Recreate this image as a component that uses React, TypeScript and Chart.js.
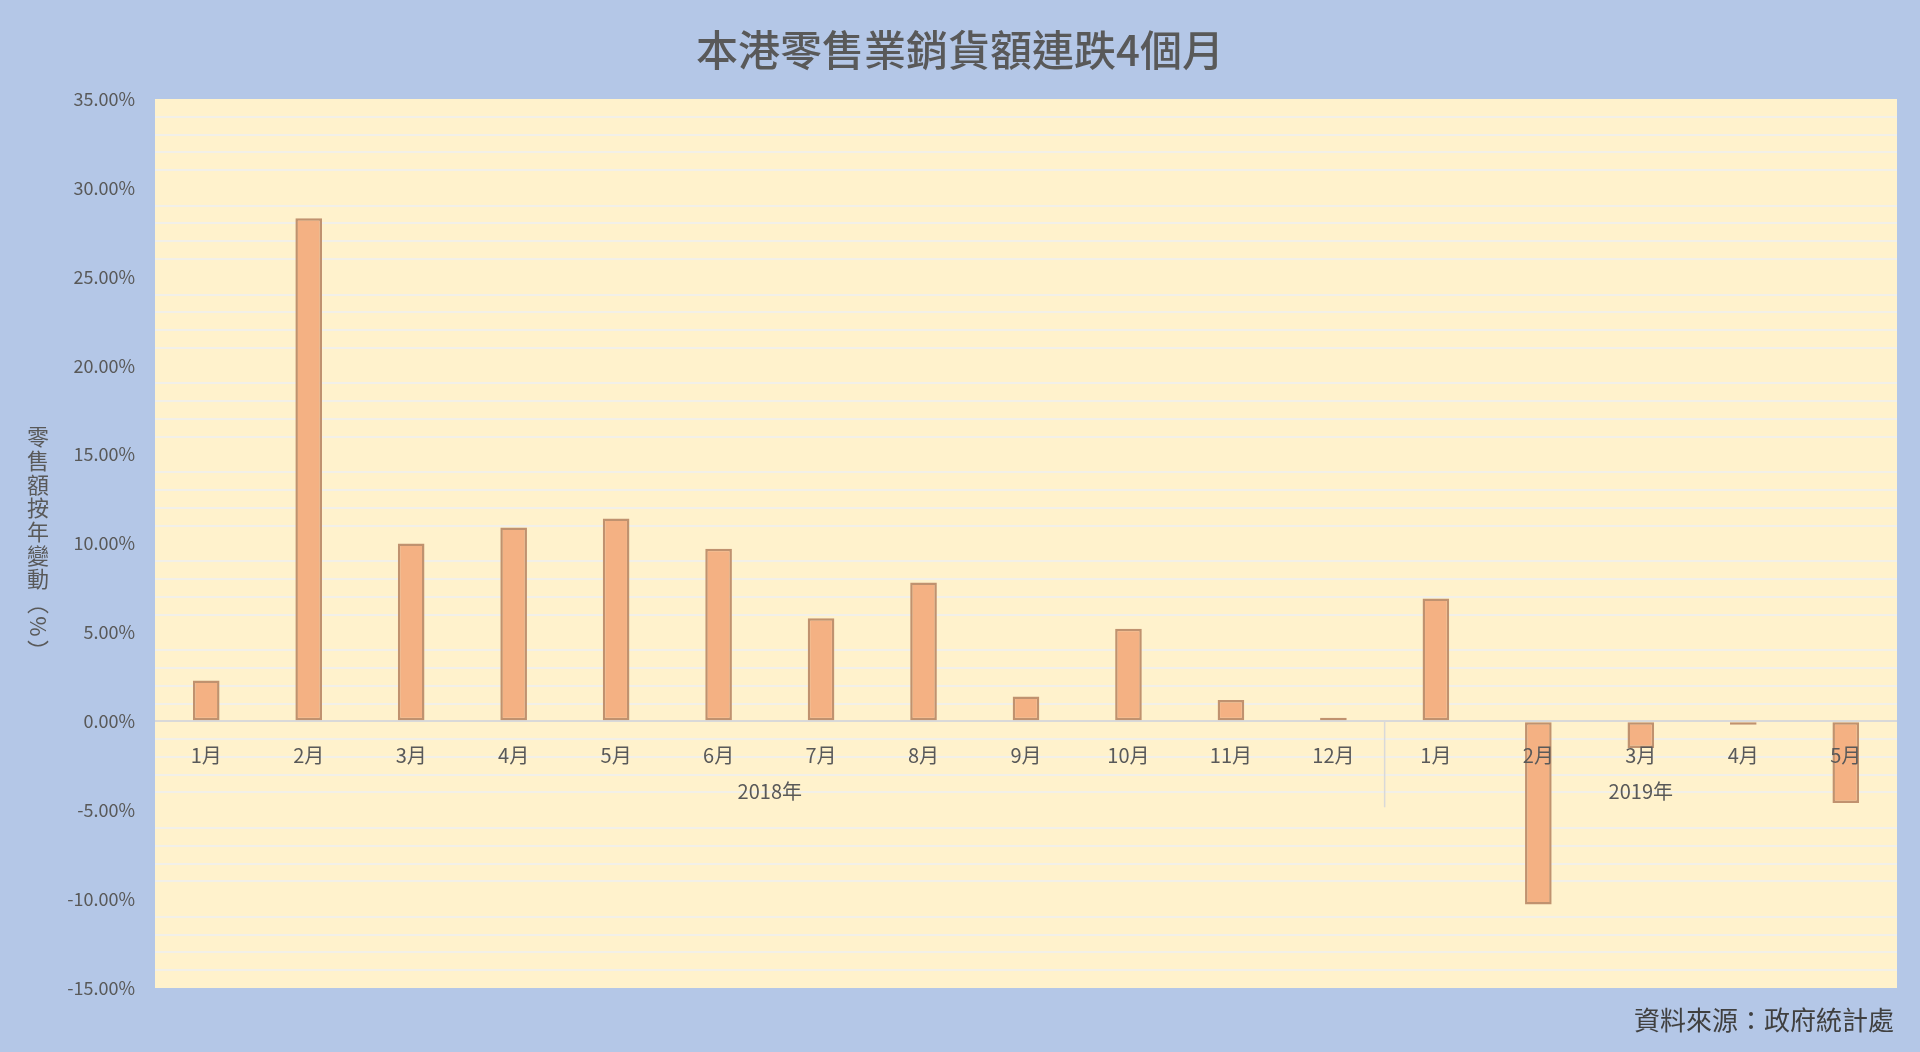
import { useEffect, useRef } from "react";
import { Chart, registerables, type ChartConfiguration, type Plugin } from "chart.js";

Chart.register(...registerables);

const TITLE = "本港零售業銷貨額連跌4個月";
const Y_TITLE = "零售額按年變動（%）";
const SOURCE = "資料來源：政府統計處";

const YEARS = ["2018年", "2019年"];
const MONTHS_2018 = ["1月", "2月", "3月", "4月", "5月", "6月", "7月", "8月", "9月", "10月", "11月", "12月"];
const MONTHS_2019 = ["1月", "2月", "3月", "4月", "5月"];
// 按年變動 (%)
const VALUES_2018 = [2.3, 28.3, 10.0, 10.9, 11.4, 9.7, 5.8, 7.8, 1.4, 5.2, 1.2, 0.2];
const VALUES_2019 = [6.9, -10.3, -1.5, -0.2, -4.6];

const Y_MIN = -15;
const Y_MAX = 35;
const Y_LABEL_EVERY = 5;

const FONT = '"Noto Sans CJK TC", "Noto Sans", sans-serif';
const TEXT = "#595959";

const groups = [MONTHS_2018.length, MONTHS_2019.length];

// 背景、標題、年份分組、縱軸標題、資料來源
const decor: Plugin<"bar"> = {
  id: "decor",
  beforeDraw(chart) {
    const { ctx, chartArea: a, width, height } = chart;
    ctx.save();
    ctx.fillStyle = "#b4c7e7";
    ctx.fillRect(0, 0, width, height);
    ctx.fillStyle = "#fff2cc";
    ctx.fillRect(a.left, a.top, a.right - a.left, a.bottom - a.top);
    ctx.restore();
  },
  afterDraw(chart) {
    const { ctx, chartArea: a, width } = chart;
    const xs = chart.scales.x;
    const ys = chart.scales.y;
    const zero = ys.getPixelForValue(0);
    const total = groups.reduce((s, n) => s + n, 0);

    ctx.save();
    ctx.textAlign = "center";
    ctx.textBaseline = "middle";

    ctx.fillStyle = TEXT;
    ctx.font = `500 42px ${FONT}`;
    ctx.fillText(TITLE, width / 2, 50);

    // year labels + separators
    ctx.font = `20px ${FONT}`;
    let start = 0;
    groups.forEach((n, i) => {
      const x0 = xs.getPixelForValue(start);
      const x1 = xs.getPixelForValue(start + n - 1);
      ctx.fillStyle = TEXT;
      ctx.fillText(YEARS[i], (x0 + x1) / 2, zero + 70);
      if (start + n < total) {
        const sx = (x1 + xs.getPixelForValue(start + n)) / 2;
        ctx.strokeStyle = "#d9d9d9";
        ctx.lineWidth = 1.5;
        ctx.beginPath();
        ctx.moveTo(sx, zero);
        ctx.lineTo(sx, zero + 86);
        ctx.stroke();
      }
      start += n;
    });

    // vertical axis title, stacked characters
    const chars = Array.from(Y_TITLE);
    const pitch = 23.7;
    const cx = 38;
    const cy0 = (a.top + a.bottom) / 2 - ((chars.length - 1) / 2) * pitch;
    ctx.font = `22px ${FONT}`;
    ctx.fillStyle = TEXT;
    chars.forEach((ch, i) => {
      const cy = cy0 + i * pitch;
      if (ch === "%") {
        ctx.save();
        ctx.translate(cx, cy);
        ctx.rotate(Math.PI / 2);
        ctx.fillText(ch, 0, 0);
        ctx.restore();
      } else {
        const c = ch === "（" ? "︵" : ch === "）" ? "︶" : ch;
        ctx.fillText(c, cx, cy);
      }
    });

    ctx.fillStyle = "#404040";
    ctx.font = `26px ${FONT}`;
    ctx.textAlign = "right";
    ctx.fillText(SOURCE, 1894, 1020);
    ctx.restore();
  },
};

export default function App() {
  const canvasRef = useRef<HTMLCanvasElement>(null);

  useEffect(() => {
    if (!canvasRef.current) return;
    const config: ChartConfiguration<"bar"> = {
      type: "bar",
      data: {
        labels: [...MONTHS_2018, ...MONTHS_2019],
        datasets: [
          {
            label: "零售額按年變動",
            data: [...VALUES_2018, ...VALUES_2019],
            backgroundColor: "#f4b183",
            borderColor: "#c0926f",
            borderWidth: 2.5,
            borderSkipped: false,
            categoryPercentage: 1,
            barPercentage: 0.26,
          },
        ],
      },
      options: {
        responsive: true,
        maintainAspectRatio: false,
        animation: false,
        layout: { padding: { top: 99, right: 23, bottom: 64, left: 0 } },
        scales: {
          x: {
            position: { y: 0 },
            grid: { display: false },
            border: { display: false },
            ticks: {
              color: TEXT,
              font: { family: FONT, size: 20 },
              padding: 14,
              autoSkip: false,
              maxRotation: 0,
              z: 1,
            },
            afterFit: (s) => {
              s.height = 0;
            },
          },
          y: {
            min: Y_MIN,
            max: Y_MAX,
            afterFit: (s) => {
              s.width = 155;
            },
            border: { display: false },
            grid: {
              drawTicks: false,
              lineWidth: 2,
              color: (c) => {
                const v = Math.round(c.tick.value);
                if (v === 0) return "#d9d9d9";
                if (v % Y_LABEL_EVERY === 0) return "rgba(0,0,0,0)";
                return "#f2f0e8";
              },
            },
            ticks: {
              stepSize: 1,
              autoSkip: false,
              padding: 20,
              color: TEXT,
              font: { family: FONT, size: 18 },
              callback: (v) => {
                const n = Math.round(Number(v));
                return n % Y_LABEL_EVERY === 0 ? n.toFixed(2) + "%" : "";
              },
            },
          },
        },
        plugins: {
          legend: { display: false },
          tooltip: { enabled: false },
        },
      },
      plugins: [decor],
    };

    const chart = new Chart(canvasRef.current, config);
    return () => chart.destroy();
  }, []);

  return (
    <div style={{ position: "fixed", left: 0, top: 0, width: 1920, height: 1052, background: "#b4c7e7" }}>
      <canvas ref={canvasRef} />
    </div>
  );
}
